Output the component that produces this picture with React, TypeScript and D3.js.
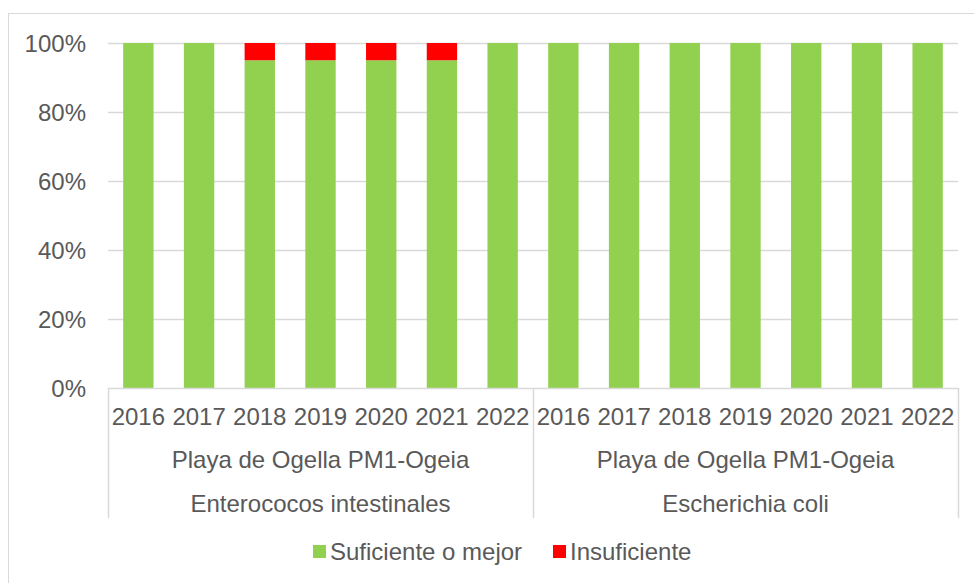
import { useEffect, useRef } from 'react';
import * as d3 from 'd3';

const years = ['2016', '2017', '2018', '2019', '2020', '2021', '2022'];
const groups = [
  { place: 'Playa de Ogella PM1-Ogeia', param: 'Enterococos intestinales' },
  { place: 'Playa de Ogella PM1-Ogeia', param: 'Escherichia coli' },
];
const suficiente = [100, 100, 95, 95, 95, 95, 100, 100, 100, 100, 100, 100, 100, 100];
const insuficiente = [0, 0, 5, 5, 5, 5, 0, 0, 0, 0, 0, 0, 0, 0];
const yTicks = [0, 20, 40, 60, 80, 100];
const seriesNames = ['Suficiente o mejor', 'Insuficiente'];

const GREEN = '#92d050';
const RED = '#ff0000';
const TEXT = '#595959';
const GRID = '#d9d9d9';
const FONT = '"Liberation Sans", Arial, sans-serif';
const FS = '24px';

const App = () => {
  const svgRef = useRef<SVGSVGElement | null>(null);

  useEffect(() => {
    if (!svgRef.current) return;
    const svg = d3.select(svgRef.current);
    svg.selectAll('*').remove();

    const left = 108;
    const right = 958;
    const top = 43;
    const bottom = 388;

    const cats = groups.flatMap((g, gi) => years.map((yr) => `${gi}-${yr}`));

    const x = d3.scaleBand<string>()
      .domain(cats)
      .range([left, right])
      .paddingInner(0.5)
      .paddingOuter(0.25);

    const y = d3.scaleLinear()
      .domain([0, 100])
      .range([bottom, top]);

    // outer frame (cropped at right and bottom)
    svg.append('rect')
      .attr('x', 8.5)
      .attr('y', 13.5)
      .attr('width', 1000)
      .attr('height', 700)
      .attr('fill', '#fff')
      .attr('stroke', GRID)
      .attr('stroke-width', 1);

    // gridlines
    svg.append('g')
      .selectAll('line')
      .data(yTicks.filter((t) => t > 0))
      .enter()
      .append('line')
      .attr('x1', left)
      .attr('x2', right)
      .attr('y1', (d) => Math.round(y(d)) + 0.5)
      .attr('y2', (d) => Math.round(y(d)) + 0.5)
      .attr('stroke', GRID)
      .attr('stroke-width', 1.5);

    // y tick labels
    svg.append('g')
      .selectAll('text')
      .data(yTicks)
      .enter()
      .append('text')
      .attr('x', 86)
      .attr('y', (d) => y(d))
      .attr('dy', '0.36em')
      .attr('text-anchor', 'end')
      .style('font-family', FONT)
      .style('font-size', FS)
      .style('fill', TEXT)
      .text((d) => `${d}%`);

    // stacked bars
    const stackData = cats.map((c, i) => ({ cat: c, s: suficiente[i], ins: insuficiente[i] }));
    const stack = d3.stack<{ cat: string; s: number; ins: number }>().keys(['s', 'ins']);
    const layers = stack(stackData);
    const colors = [GREEN, RED];

    svg.append('g')
      .selectAll('g')
      .data(layers)
      .enter()
      .append('g')
      .attr('fill', (_, i) => colors[i])
      .selectAll('rect')
      .data((d) => d)
      .enter()
      .append('rect')
      .attr('x', (d) => x(d.data.cat) as number)
      .attr('width', x.bandwidth())
      .attr('y', (d) => y(d[1]))
      .attr('height', (d) => y(d[0]) - y(d[1]));

    // x axis line
    svg.append('line')
      .attr('x1', left)
      .attr('x2', right)
      .attr('y1', bottom + 0.5)
      .attr('y2', bottom + 0.5)
      .attr('stroke', GRID)
      .attr('stroke-width', 1.5);

    // group separators
    const step = x.step();
    const groupEdges = [0, years.length, cats.length].map((i) =>
      i === cats.length ? right : left + i * step);
    svg.append('g')
      .selectAll('line')
      .data(groupEdges)
      .enter()
      .append('line')
      .attr('x1', (d) => Math.round(d) + 0.5)
      .attr('x2', (d) => Math.round(d) + 0.5)
      .attr('y1', bottom)
      .attr('y2', 518)
      .attr('stroke', GRID)
      .attr('stroke-width', 1.5);

    // year labels
    svg.append('g')
      .selectAll('text')
      .data(cats)
      .enter()
      .append('text')
      .attr('x', (d) => (x(d) as number) + x.bandwidth() / 2)
      .attr('y', 425)
      .attr('text-anchor', 'middle')
      .style('font-family', FONT)
      .style('font-size', FS)
      .style('fill', TEXT)
      .text((d) => d.split('-')[1]);

    // group labels
    groups.forEach((g, gi) => {
      const cx = (groupEdges[gi] + groupEdges[gi + 1]) / 2;
      svg.append('text')
        .attr('x', cx)
        .attr('y', 468)
        .attr('text-anchor', 'middle')
        .style('font-family', FONT)
        .style('font-size', FS)
        .style('fill', TEXT)
        .text(g.place);
      svg.append('text')
        .attr('x', cx)
        .attr('y', 512)
        .attr('text-anchor', 'middle')
        .style('font-family', FONT)
        .style('font-size', FS)
        .style('fill', TEXT)
        .text(g.param);
    });

    // legend
    const legendPos = [313, 553];
    seriesNames.forEach((name, i) => {
      svg.append('rect')
        .attr('x', legendPos[i])
        .attr('y', 545)
        .attr('width', 13)
        .attr('height', 13)
        .attr('fill', colors[i]);
      svg.append('text')
        .attr('x', legendPos[i] + 17)
        .attr('y', 560)
        .style('font-family', FONT)
        .style('font-size', FS)
        .style('fill', TEXT)
        .text(name);
    });
  }, []);

  return (
    <svg
      ref={svgRef}
      width={974}
      height={583}
      style={{ position: 'absolute', left: 0, top: 0, background: '#fff' }}
    />
  );
};

export default App;
